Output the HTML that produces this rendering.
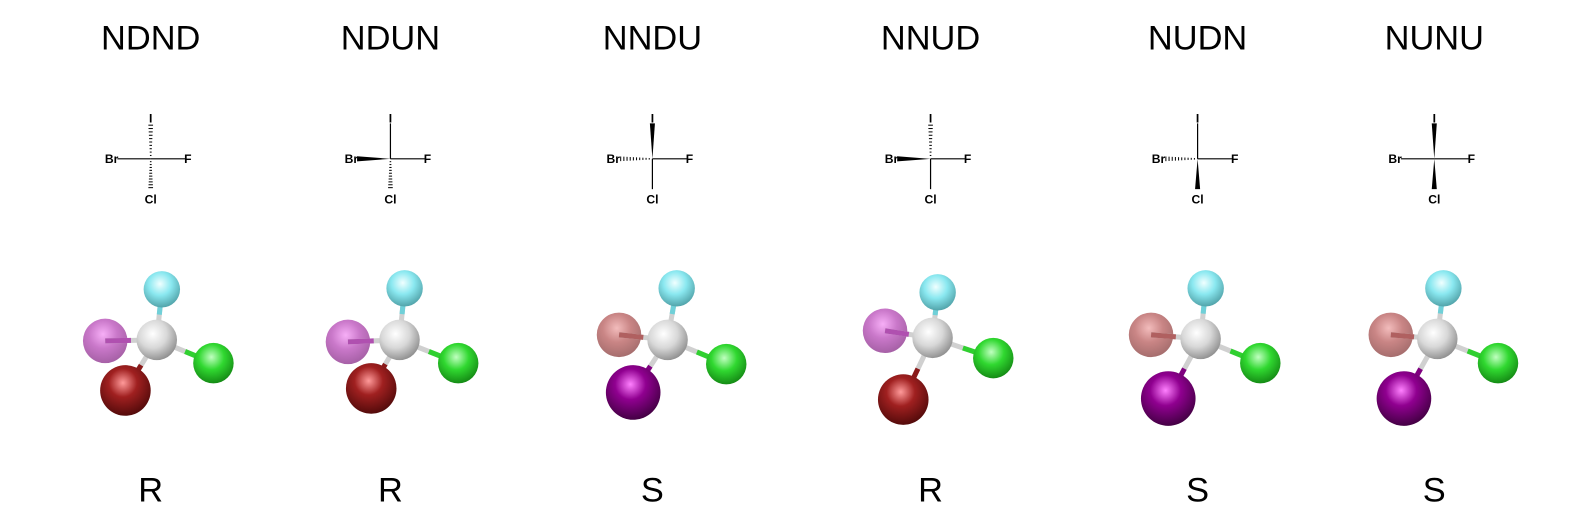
<!DOCTYPE html>
<html><head><meta charset="utf-8"><style>
html,body{margin:0;padding:0;background:#fff;}
svg{display:block;}
</style></head><body>
<svg id="fig" width="1586" height="525" viewBox="0 0 1568 519" preserveAspectRatio="none" xmlns="http://www.w3.org/2000/svg" font-family="Liberation Sans, sans-serif">
<defs>
<radialGradient id="gC" cx="0.4" cy="0.35" r="0.7"><stop offset="0" stop-color="#ffffff"/><stop offset="0.5" stop-color="#d8d8d8"/><stop offset="1" stop-color="#8a8a8a"/></radialGradient>
<radialGradient id="gF" cx="0.45" cy="0.35" r="0.7"><stop offset="0" stop-color="#f0ffff"/><stop offset="0.45" stop-color="#8ae8f0"/><stop offset="1" stop-color="#4a9aa0"/></radialGradient>
<radialGradient id="gCl" cx="0.45" cy="0.35" r="0.7"><stop offset="0" stop-color="#c0ffc0"/><stop offset="0.45" stop-color="#30d830"/><stop offset="1" stop-color="#118011"/></radialGradient>
<radialGradient id="gBr" cx="0.45" cy="0.35" r="0.7"><stop offset="0" stop-color="#ff9a9a"/><stop offset="0.4" stop-color="#a02020"/><stop offset="1" stop-color="#4a0808"/></radialGradient>
<radialGradient id="gI" cx="0.45" cy="0.35" r="0.7"><stop offset="0" stop-color="#ff80ff"/><stop offset="0.4" stop-color="#900090"/><stop offset="1" stop-color="#3a003a"/></radialGradient>
<radialGradient id="gIf" cx="0.45" cy="0.35" r="0.7"><stop offset="0" stop-color="#f5a0f5"/><stop offset="0.45" stop-color="#c060c0"/><stop offset="1" stop-color="#904090"/></radialGradient>
<radialGradient id="gBrf" cx="0.45" cy="0.35" r="0.7"><stop offset="0" stop-color="#f0b0b0"/><stop offset="0.45" stop-color="#c07070"/><stop offset="1" stop-color="#905050"/></radialGradient>
</defs>
</svg>
<script>
const names = ["NDND","NDUN","NNDU","NNUD","NUDN","NUNU"];
const labels = ["R","R","S","R","S","S"];
const colX = [149,386,645,920,1184,1418];
// bond styles: [I(up), Cl(down), Br(left)]  p=plain, d=dashed, w=wedge
const bondStyles = [["d","d","p"],["p","d","w"],["w","p","d"],["d","p","w"],["p","w","d"],["w","w","p"]];
const backAtom = ["I","I","Br","I","Br","Br"];
const carbonPos = [[155,336],[395,336],[660,336],[922,334],[1187,335],[1421,335]];
const fOff = [[5,-50],[5,-51],[9,-51],[5,-45],[5,-50],[6,-50]];
const leftOff = [[-51,1],[-51,2],[-48,-5],[-47,-7],[-49,-4],[-46,-4]];
const clOff = [[56,23],[58,23],[58,24],[60,20],[59,24],[60,24]];
const lowOff = [[-31,50],[-28,48],[-34,52],[-29,61],[-32,59],[-33,59]];

const svg = document.getElementById('fig');
const NS = "http://www.w3.org/2000/svg";
function mk(tag, attrs, parent){const e=document.createElementNS(NS,tag);for(const k in attrs)e.setAttribute(k,attrs[k]);(parent||svg).appendChild(e);return e;}

function bond(g, x1,y1,x2,y2, style){
  if(style==="p"){mk('line',{x1,y1,x2,y2,stroke:'#000','stroke-width':1.2},g);}
  else if(style==="d"){
    const n=10;
    for(let i=1;i<=n;i++){const t=i/n*0.95;const x=x1+(x2-x1)*t,y=y1+(y2-y1)*t;
      const dx=x2-x1,dy=y2-y1,L=Math.hypot(dx,dy),nx=-dy/L,ny=dx/L,w=0.6+1.8*t;
      mk('line',{x1:x-nx*w,y1:y-ny*w,x2:x+nx*w,y2:y+ny*w,stroke:'#000','stroke-width':1},g);}
  } else {
    const dx=x2-x1,dy=y2-y1,L=Math.hypot(dx,dy),nx=-dy/L,ny=dx/L,w=2.5;
    mk('polygon',{points:`${x1},${y1} ${x2+nx*w},${y2+ny*w} ${x2-nx*w},${y2-ny*w}`,fill:'#000'},g);
  }
}

names.forEach((nm,i)=>{
  const x=colX[i];
  const g=mk('g',{});
  
  
  const t=mk('text',{x, y:49,'text-anchor':'middle','font-size':34,fill:'#000'},g);t.textContent=nm;
  
  
  const fg=mk('g',{},g);
  
  
  const cy=157, s=bondStyles[i];
  bond(fg,x,cy,x,cy-35,s[0]);
  bond(fg,x,cy,x,cy+30,s[1]);
  bond(fg,x,cy,x-33,cy,s[2]);
  mk('line',{x1:x,y1:cy,x2:x+34,y2:cy,stroke:'#000','stroke-width':1.2},fg);
  const lab=(tx,ty,txt,anc)=>{const e=mk('text',{x:tx,y:ty,'font-size':12,'font-weight':'bold','text-anchor':anc,fill:'#000'},fg);e.textContent=txt;};
  lab(x,121,'I','middle'); lab(x,201,'Cl','middle'); lab(x-32,161,'Br','end'); lab(x+33,161,'F','start');
  const mg=mk('g',{},g);
  
  
  const [cx,cyy]=carbonPos[i];
  const P=o=>[cx+o[0],cyy+o[1]];
  const F=P(fOff[i]),Lf=P(leftOff[i]),Cl=P(clOff[i]),Lo=P(lowOff[i]);
  const back=backAtom[i];
  const leftFill = back==="I"?'url(#gIf)':'url(#gBrf)';
  const lowFill = back==="I"?'url(#gBr)':'url(#gI)';
  const lowBond = back==="I"?'#8a1a1a':'#800080';
  const stick=(p,c)=>{mk('line',{x1:cx,y1:cyy,x2:p[0],y2:p[1],stroke:'#d0d0d0','stroke-width':5},mg);mk('line',{x1:(cx+p[0])/2,y1:(cyy+p[1])/2,x2:p[0],y2:p[1],stroke:c,'stroke-width':5},mg);};
  mk('circle',{cx:Lf[0],cy:Lf[1],r:22,fill:leftFill,opacity:0.85},mg);
  stick(Lf, back==="I"?'#b050b0':'#b06060');
  stick(F,'#70d0d8'); stick(Cl,'#30d030'); stick(Lo,lowBond);
  mk('circle',{cx:F[0],cy:F[1],r:18,fill:'url(#gF)'},mg);
  mk('circle',{cx,cy:cyy,r:20,fill:'url(#gC)'},mg);
  mk('circle',{cx:Cl[0],cy:Cl[1],r:20,fill:'url(#gCl)'},mg);
  mk('circle',{cx:Lo[0],cy:Lo[1],r:back==="I"?25:27,fill:lowFill},mg);
  const r=mk('text',{x,y:496,'text-anchor':'middle','font-size':34,fill:'#000'},g);r.textContent=labels[i];
  
  
});
</script>
</body></html>
